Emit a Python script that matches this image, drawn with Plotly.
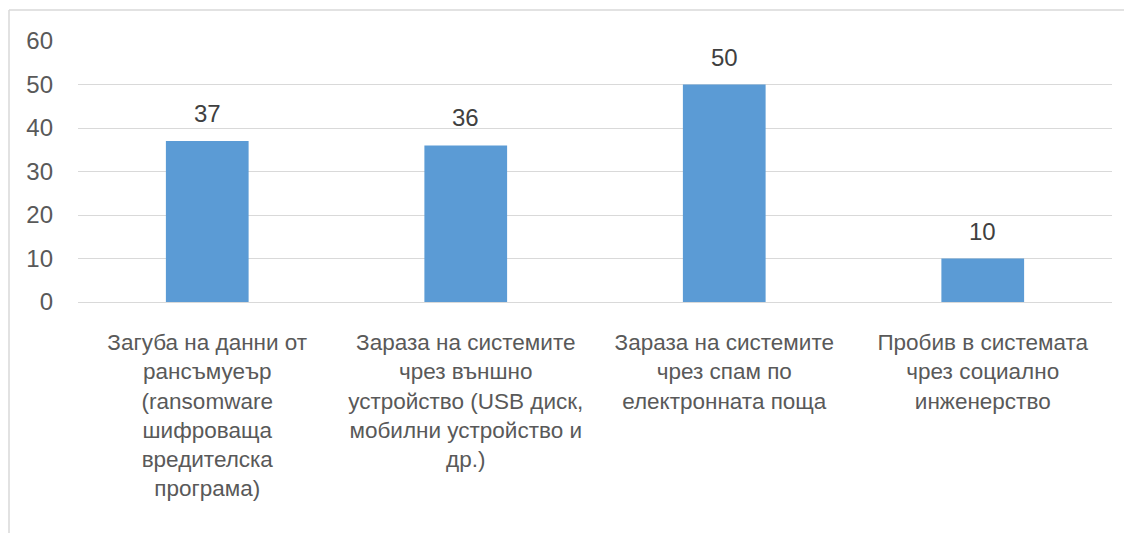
import plotly.graph_objects as go

categories = [
    "Загуба на данни от<br>рансъмуеър<br>(ransomware<br>шифроваща<br>вредителска<br>програма)",
    "Зараза на системите<br>чрез външно<br>устройство (USB диск,<br>мобилни устройство и<br>др.)",
    "Зараза на системите<br>чрез спам по<br>електронната поща",
    "Пробив в системата<br>чрез социално<br>инженерство",
]
values = [37, 36, 50, 10]
y_ticks = [0, 10, 20, 30, 40, 50, 60]

font_family = "Liberation Sans, Arial, sans-serif"

# page body has an 8px default margin, so the figure is 8px smaller
W, H = 1124, 525
ML, MR, MT, MB = 70, 20, 33, 231

fig = go.Figure()
fig.add_trace(go.Bar(
    x=categories,
    y=values,
    marker_color="#5B9BD5",
    marker_line_width=0,
    width=0.32,
    hoverinfo="skip",
))

# data labels above the bars
for cat, val in zip(categories, values):
    fig.add_annotation(
        x=cat, y=val, text=str(val),
        showarrow=False, yanchor="bottom", yshift=12,
        font=dict(family=font_family, size=24, color="#404040"),
    )

fig.update_layout(
    width=W, height=H,
    margin=dict(l=ML, r=MR, t=MT, b=MB),
    paper_bgcolor="white",
    plot_bgcolor="white",
    showlegend=False,
    font=dict(family=font_family, size=22, color="#595959"),
)

fig.update_yaxes(
    range=[0, 60],
    tickvals=y_ticks,
    showgrid=True, gridcolor="#D9D9D9", gridwidth=1,
    zeroline=False, showline=False,
    ticklabelstandoff=24,
    tickfont=dict(size=24, color="#595959"),
)
fig.update_xaxes(
    showline=True, linecolor="#D9D9D9", linewidth=1,
    showgrid=False, ticks="",
    ticklabelstandoff=20,
    tickfont=dict(size=22.5, color="#595959"),
)

# chart frame (only top and left edges visible in the crop)
plot_w = W - ML - MR
plot_h = H - MT - MB
top = 1 + (MT - 2) / plot_h
left = (1 - ML) / plot_w
fig.add_shape(type="line", xref="paper", yref="paper",
              x0=left, x1=(W - ML) / plot_w, y0=top, y1=top,
              line=dict(color="#D9D9D9", width=1.5))
fig.add_shape(type="line", xref="paper", yref="paper",
              x0=left, x1=left, y0=top, y1=-MB / plot_h,
              line=dict(color="#D9D9D9", width=1.5))

fig.write_html("out.html")
